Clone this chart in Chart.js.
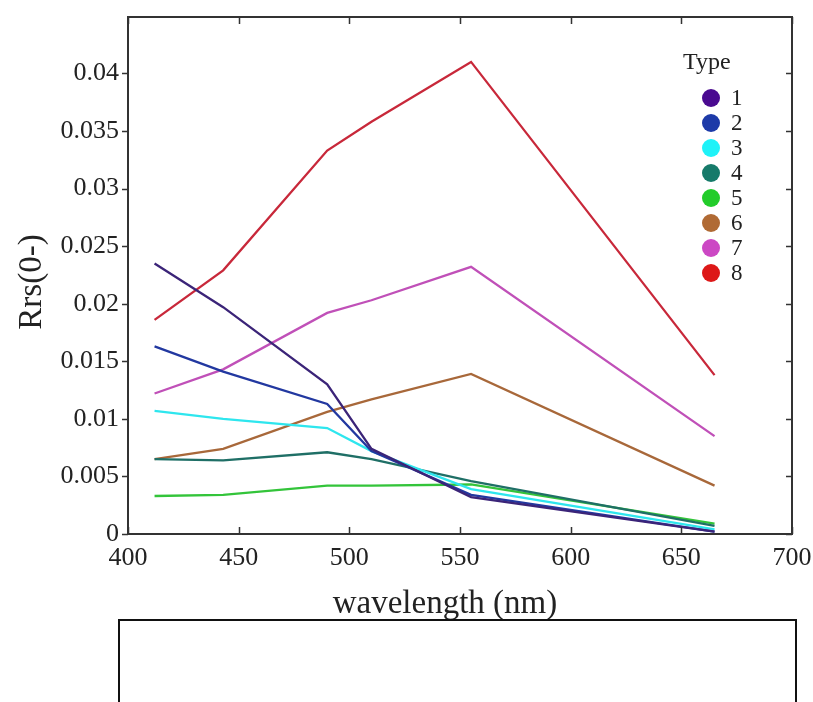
<!DOCTYPE html>
<html>
<head>
<meta charset="utf-8">
<script src="https://cdn.jsdelivr.net/npm/chart.js@4.4.1/dist/chart.umd.min.js"></script>
<style>
  html,body{margin:0;padding:0;background:#fff;overflow:hidden;}
  #wrap{position:relative;width:813px;height:702px;overflow:hidden;}
  #box{position:absolute;left:118px;top:619px;width:675px;height:120px;border:2px solid #111;background:#fff;}
</style>
</head>
<body>
<div id="wrap">
  <canvas id="c" width="813" height="702"></canvas>
  <div id="box"></div>
</div>
<script>
// band centres (nm)
const wavelengths = [412, 443, 490, 510, 555, 665];
const typeLabels = ['1','2','3','4','5','6','7','8'];
const xTickLabels = [400, 450, 500, 550, 600, 650, 700];
const yTickLabels = [0, 0.005, 0.01, 0.015, 0.02, 0.025, 0.03, 0.035, 0.04];
const type1 = [0.0235, 0.0197, 0.0130, 0.0074, 0.0032, 0.0002];
const type2 = [0.0163, 0.0141, 0.0113, 0.0072, 0.0034, 0.0002];
const type3 = [0.0107, 0.0100, 0.0092, 0.0072, 0.0039, 0.0004];
const type4 = [0.0065, 0.0064, 0.0071, 0.0065, 0.0046, 0.0007];
const type5 = [0.0033, 0.0034, 0.0042, 0.0042, 0.0043, 0.0009];
const type6 = [0.0065, 0.0074, 0.0106, 0.0117, 0.0139, 0.0042];
const type7 = [0.0122, 0.0143, 0.0192, 0.0203, 0.0232, 0.0085];
const type8 = [0.0186, 0.0229, 0.0333, 0.0358, 0.0410, 0.0138];
const series = [type1, type2, type3, type4, type5, type6, type7, type8];
const lineColors = ['#3b2478', '#2238a0', '#2ee6ee', '#1f6f66', '#33c43a', '#a8683a', '#c050b8', '#c8283a'];
const dotColors  = ['#4a0a90', '#1d3aa8', '#1ef2f8', '#167a6a', '#22cc2a', '#b06a34', '#cc48c4', '#dd1818'];

const datasets = series.map((vals, i) => ({
  label: typeLabels[i],
  data: wavelengths.map((w, j) => ({x: w, y: vals[j]})),
  borderColor: lineColors[i],
  backgroundColor: dotColors[i],
  borderWidth: 2.3,
  pointRadius: 0,
  tension: 0
}));

const FONT = '"Liberation Serif", "DejaVu Serif", serif';

const framePlugin = {
  id: 'frame',
  afterDraw(chart) {
    const ctx = chart.ctx;
    const a = chart.chartArea;
    const xs = chart.scales.x, ys = chart.scales.y;
    ctx.save();
    ctx.strokeStyle = '#333';
    ctx.lineWidth = 2;
    ctx.strokeRect(a.left, a.top, a.right - a.left, a.bottom - a.top);
    ctx.lineWidth = 1.5;
    ctx.beginPath();
    xs.ticks.forEach(t => {
      const px = Math.round(xs.getPixelForValue(t.value)) + 0.5;
      ctx.moveTo(px, a.bottom); ctx.lineTo(px, a.bottom - 7);
      ctx.moveTo(px, a.top); ctx.lineTo(px, a.top + 7);
    });
    ys.ticks.forEach(t => {
      const py = Math.round(ys.getPixelForValue(t.value)) + 0.5;
      ctx.moveTo(a.left, py); ctx.lineTo(a.left - 6, py);
      ctx.moveTo(a.right, py); ctx.lineTo(a.right - 6, py);
    });
    ctx.stroke();

    // axis titles
    ctx.fillStyle = '#222';
    ctx.font = '33px ' + FONT;
    ctx.textAlign = 'center';
    ctx.textBaseline = 'alphabetic';
    ctx.fillText('wavelength (nm)', 445, 613);
    ctx.save();
    ctx.translate(41, 282);
    ctx.rotate(-Math.PI / 2);
    ctx.fillText('Rrs(0-)', 0, 0);
    ctx.restore();

    // legend inside plot
    ctx.font = '24px ' + FONT;
    ctx.textAlign = 'left';
    ctx.textBaseline = 'alphabetic';
    ctx.fillText('Type', 683, 69);
    ctx.textBaseline = 'middle';
    chart.data.datasets.forEach((ds, i) => {
      const y = 98 + i * 25;
      ctx.beginPath();
      ctx.fillStyle = ds.backgroundColor;
      ctx.arc(711, y, 9, 0, Math.PI * 2);
      ctx.fill();
      ctx.fillStyle = '#222';
      ctx.font = '23px ' + FONT;
      ctx.fillText(ds.label, 731, y + 1);
    });
    ctx.restore();
  }
};

new Chart(document.getElementById('c'), {
  type: 'line',
  data: { datasets },
  options: {
    responsive: false,
    animation: false,
    layout: { padding: { left: 0, right: 21, top: 17, bottom: 0 } },
    plugins: { legend: { display: false }, tooltip: { enabled: false } },
    scales: {
      x: {
        type: 'linear',
        min: 400, max: 700,
        grid: { display: false, drawTicks: false },
        border: { display: false },
        afterBuildTicks(s) { s.ticks = xTickLabels.map(v => ({ value: v })); },
        ticks: { padding: 9, color: '#222', font: { family: FONT, size: 26 }, maxRotation: 0,
                 callback: v => String(v) },
        afterFit(s) { s.height = 168; s.paddingLeft = 0; s.paddingRight = 0; }
      },
      y: {
        min: 0, max: 0.0449,
        grid: { display: false, drawTicks: false },
        border: { display: false },
        afterBuildTicks(s) { s.ticks = yTickLabels.map(v => ({ value: v })); },
        ticks: {
          padding: 9, color: '#222', font: { family: FONT, size: 26 },
          callback: v => String(Number(v.toFixed(3)))
        },
        afterFit(s) { s.width = 128; s.paddingTop = 0; s.paddingBottom = 0; }
      }
    }
  },
  plugins: [framePlugin]
});
</script>
</body>
</html>
